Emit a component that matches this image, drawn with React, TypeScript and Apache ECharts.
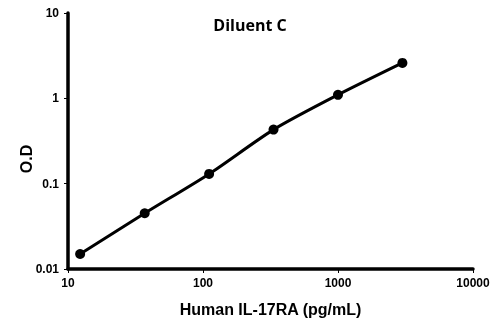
import React, { useEffect, useRef } from "react";
import * as echarts from "echarts";

const concentrations = [12.3, 37, 111, 333, 1000, 3000];
const odValues = [0.015, 0.045, 0.13, 0.43, 1.1, 2.6];
const titleText = "Diluent C";
const xName = "Human IL-17RA (pg/mL)";
const yName = "O.D";

export default function App() {
  const ref = useRef<HTMLDivElement>(null);
  useEffect(() => {
    if (!ref.current) return;
    const chart = echarts.init(ref.current, null, { renderer: "svg" });
    const font = "Arial";
    const fmt = (v: number) => String(Number(v.toPrecision(6)));
    chart.setOption({
      animation: false,
      title: {
        text: titleText,
        left: "center",
        top: 12,
        textStyle: { fontFamily: "Open Sans", fontWeight: 700, fontSize: 16, color: "#000" },
      },
      grid: { left: 68, right: 27, top: 13, bottom: 50 },
      xAxis: {
        type: "log",
        logBase: 10,
        min: 10,
        max: 10000,
        name: xName,
        nameLocation: "middle",
        nameGap: 32,
        nameMoveOverlap: false,
        nameTextStyle: { fontFamily: font, fontWeight: 700, fontSize: 16, color: "#000" },
        axisLine: { show: true, onZero: false, lineStyle: { color: "#000", width: 3.5 } },
        axisTick: { show: true, length: 4 },
        minorTick: { show: false },
        splitLine: { show: false },
        axisLabel: { fontFamily: font, fontWeight: 700, fontSize: 12, color: "#000", margin: 8, formatter: fmt },
      },
      yAxis: {
        type: "log",
        logBase: 10,
        min: 0.01,
        max: 10,
        name: yName,
        nameLocation: "middle",
        nameRotate: 90,
        nameGap: 34,
        nameMoveOverlap: false,
        nameTextStyle: {
          fontFamily: font,
          fontWeight: 700,
          fontSize: 16,
          color: "#000",
          padding: [0, 36, 0, 0],
        },
        axisLine: { show: true, onZero: false, lineStyle: { color: "#000", width: 3.5 } },
        axisTick: { show: true, length: 4 },
        splitLine: { show: false },
        axisLabel: {
          fontFamily: font,
          fontWeight: 700,
          fontSize: 12,
          color: "#000",
          margin: 9,
          formatter: fmt,
        },
      },
      series: [
        {
          type: "line",
          data: concentrations.map((c, i) => [c, odValues[i]]),
          smooth: 0.25,
          symbol: "circle",
          symbolSize: 10,
          lineStyle: { color: "#000", width: 3 },
          itemStyle: { color: "#000" },
        },
      ],
    });
    return () => chart.dispose();
  }, []);
  return (
    <div
      ref={ref}
      style={{ position: "fixed", left: 0, top: 0, width: 500, height: 322 }}
    />
  );
}
